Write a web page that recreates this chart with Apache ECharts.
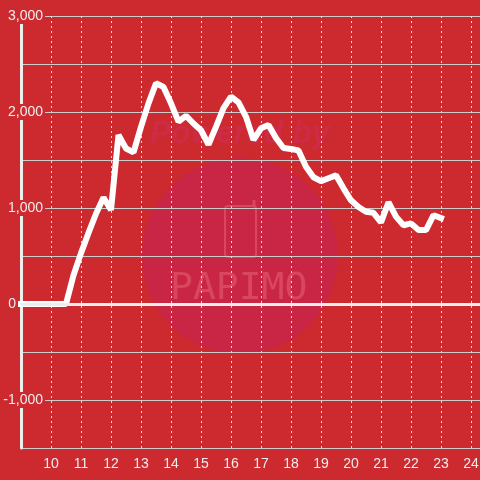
<!DOCTYPE html>
<html>
<head>
<meta charset="utf-8">
<script src="https://cdn.jsdelivr.net/npm/echarts/dist/echarts.min.js"></script>
<style>
  html, body { margin: 0; padding: 0; background: #cc2a2f; }
</style>
</head>
<body>
<div id="chart" style="width: 480px; height: 480px;"></div>

<script>
  // hour of day (quarter-hour steps) and values
  var hours = [9, 9.25, 9.5, 9.75, 10, 10.25, 10.5, 10.75, 11, 11.25, 11.5, 11.75,
    12, 12.25, 12.5, 12.75, 13, 13.25, 13.5, 13.75, 14, 14.25, 14.5, 14.75,
    15, 15.25, 15.5, 15.75, 16, 16.25, 16.5, 16.75, 17, 17.25, 17.5, 17.75,
    18, 18.25, 18.5, 18.75, 19, 19.25, 19.5, 19.75, 20, 20.25, 20.5, 20.75,
    21, 21.25, 21.5, 21.75, 22, 22.25, 22.5, 22.75, 23];
  var values = [0, 0, 0, 0, 0, 0, 0, 300, 530, 740, 940, 1110,
    980, 1760, 1620, 1580, 1845, 2090, 2300, 2260, 2090, 1900, 1960, 1880,
    1810, 1660, 1845, 2040, 2160, 2100, 1950, 1710, 1830, 1865, 1730, 1625,
    1615, 1600, 1430, 1320, 1280, 1310, 1340, 1205, 1080, 1010, 960, 950,
    850, 1060, 910, 820, 840, 770, 770, 925, 895];
  var yLabelValues = [-1000, 1000, 2000, 3000];

  var bg = '#cc2a2f';
  var chart = echarts.init(document.getElementById('chart'));

  var points = hours.map(function (h, i) { return [h, values[i]]; });

  var option = {
    backgroundColor: bg,
    animation: false,
    grid: { left: 21, right: 0, top: 16, bottom: 32, outerBoundsMode: 'none' },
    graphic: [
      {
        type: 'text', z: -1, left: 150, top: 118,
        style: { text: 'Powered by', fill: 'rgba(206,44,80,0.7)', font: 'italic bold 32px sans-serif' }
      },
      {
        type: 'circle', z: -1, shape: { cx: 240, cy: 256, r: 98 },
        style: { fill: 'rgba(200,36,78,0.75)' }
      },
      {
        type: 'rect', z: -1, shape: { x: 225, y: 206, width: 31, height: 51, r: 3 },
        style: { fill: 'none', stroke: 'rgba(220,80,100,0.8)', lineWidth: 2 }
      },
      {
        type: 'line', z: -1, shape: { x1: 254, y1: 206, x2: 254, y2: 200 },
        style: { stroke: 'rgba(220,80,100,0.8)', lineWidth: 3 }
      },
      {
        type: 'text', z: -1, left: 170, top: 270,
        style: { text: 'PAPIMO', fill: 'rgba(220,80,100,0.8)',
          font: '38px "DejaVu Sans Mono"' }
      }
    ],
    xAxis: {
      type: 'value',
      min: 9,
      max: 24.3,
      interval: 1,
      axisLine: { show: false },
      axisTick: { show: false },
      axisLabel: { color: '#eee', fontSize: 14, margin: 9, showMinLabel: false, showMaxLabel: false },
      splitLine: { show: true, lineStyle: { color: '#ddd', type: [2, 3], width: 1 } }
    },
    yAxis: {
      type: 'value',
      min: -1500,
      max: 3000,
      interval: 500,
      axisLine: { show: true, onZero: false, lineStyle: { color: '#eee', width: 3 } },
      axisTick: { show: false },
      axisLabel: {
        customValues: yLabelValues,
        color: '#eee', fontSize: 14, margin: -24,
        backgroundColor: bg, padding: [1, 2, 1, 2]
      },
      splitLine: { show: true, lineStyle: { color: '#ccc', width: 1 } }
    },
    series: [{
      type: 'line',
      data: points,
      showSymbol: false,
      lineStyle: { color: '#fff', width: 6, cap: 'square' },
      z: 3,
      markLine: {
        silent: true,
        symbol: 'none',
        lineStyle: { color: '#eee', width: 3, type: 'solid' },
        label: { position: 'start', formatter: '0', color: '#eee', fontSize: 14 },
        data: [{ yAxis: 0 }]
      }
    }]
  };

  chart.setOption(option);
</script>
</body>
</html>
